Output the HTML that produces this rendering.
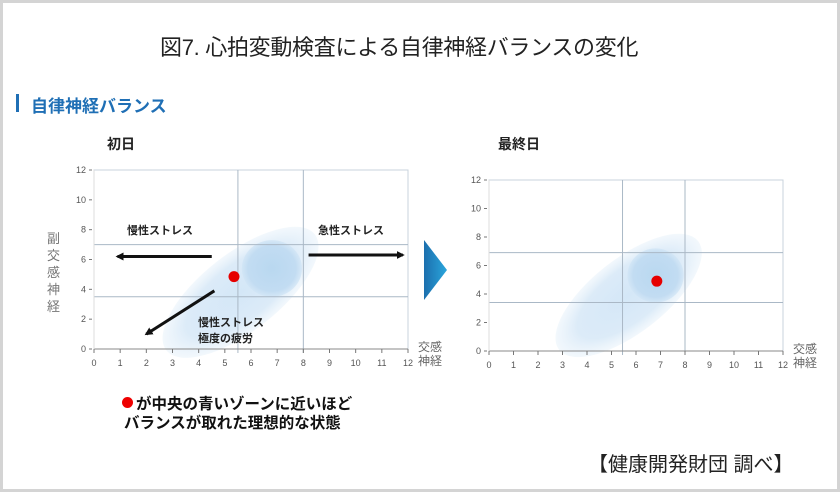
<!DOCTYPE html>
<html><head><meta charset="utf-8"><style>
body{margin:0;width:840px;height:492px;overflow:hidden;background:#fff;font-family:"Liberation Sans","Noto Sans CJK JP",sans-serif;}
#frame{position:absolute;left:0;top:0;width:834px;height:486px;border:3px solid #d4d4d4;background:#fff;}
.t{position:absolute;white-space:nowrap;}
</style></head><body>
<div id="frame"></div>
<div class="t" style="left:160px;top:30px;font-size:22px;color:#222;letter-spacing:-0.3px;">図7. 心拍変動検査による自律神経バランスの変化</div>
<div style="position:absolute;left:16px;top:94px;width:3px;height:18px;background:#1f6fb5;"></div>
<div class="t" style="left:31px;top:92px;font-size:17px;font-weight:bold;color:#1f6fb5;">自律神経バランス</div>
<svg id="svg" width="840" height="492" style="position:absolute;left:0;top:0">
<defs>
<radialGradient id="g1"><stop offset="0" stop-color="#d4e7f7"/><stop offset="0.7" stop-color="#dcebf8"/><stop offset="1" stop-color="#e6f1fa" stop-opacity="0.5"/></radialGradient>
<radialGradient id="g2"><stop offset="0" stop-color="#b9d8f0"/><stop offset="0.8" stop-color="#c2dcf2"/><stop offset="1" stop-color="#cfe4f5" stop-opacity="0.7"/></radialGradient>
<linearGradient id="tri" x1="0" x2="1"><stop offset="0" stop-color="#1c6fae"/><stop offset="1" stop-color="#2aa6dc"/></linearGradient>
<marker id="ah" markerWidth="8" markerHeight="8" refX="6" refY="4" orient="auto" markerUnits="userSpaceOnUse"><path d="M0,0 L8,4 L0,8 z" fill="#111"/></marker>
</defs>
</svg>
<div class="t" style="left:122px;top:397px;width:11px;height:11px;border-radius:50%;background:#e00;"></div>
<div class="t" style="left:136px;top:392px;font-size:15.5px;font-weight:bold;color:#111;">が中央の青いゾーンに近いほど</div>
<div class="t" style="left:124px;top:411px;font-size:15.5px;font-weight:bold;color:#111;">バランスが取れた理想的な状態</div>
<div class="t" style="left:588px;top:448px;font-size:20px;color:#222;">【健康開発財団 調べ】</div>
<script>
const xTicks=[0,1,2,3,4,5,6,7,8,9,10,11,12];
const yTicks=[0,2,4,6,8,10,12];
const leftDot=[5.35,4.85];
const rightDot=[6.85,4.9];
const leftGridX=[5.5,8];
const leftGridY=[7,3.5];
const rightGridX=[5.45,8];
const rightGridY=[6.9,3.4];
const svg=document.getElementById('svg');
const NS='http://www.w3.org/2000/svg';
function mk(tag,attrs,parent){const e=document.createElementNS(NS,tag);for(const k in attrs)e.setAttribute(k,attrs[k]);(parent||svg).appendChild(e);return e;}
function chart(cfg){
  const sx=v=>cfg.x0+(cfg.x1-cfg.x0)*v/12;
  const sy=v=>cfg.y0-(cfg.y0-cfg.y1)*v/12;
  const g=mk('g',{});
  
  
  const ex=sx(cfg.ell[0]),ey=sy(cfg.ell[1]);
  const e1=mk('ellipse',{cx:ex,cy:ey,rx:(sx(3.6)-sx(0)),ry:(sy(0)-sy(2.6)),fill:'url(#g1)',transform:`rotate(-38 ${ex} ${ey})`},g);
  
  
  const cx=sx(cfg.circ[0]),cy=sy(cfg.circ[1]);
  const e2=mk('ellipse',{cx:cx,cy:cy,rx:sx(1.15)-sx(0),ry:sy(0)-sy(1.9),fill:'url(#g2)'},g);
  
  
  mk('rect',{x:cfg.x0,y:cfg.y1,width:cfg.x1-cfg.x0,height:cfg.y0-cfg.y1,fill:'none',stroke:'#c9d3dc','stroke-width':1},g);
  cfg.gx.forEach(v=>{const l=mk('line',{x1:sx(v),x2:sx(v),y1:cfg.y1,y2:cfg.y0+4,stroke:'#aab8c6','stroke-width':1},g);});
  cfg.gy.forEach(v=>{const l=mk('line',{x1:cfg.x0,x2:cfg.x1,y1:sy(v),y2:sy(v),stroke:'#aab8c6','stroke-width':1},g);});
  mk('line',{x1:cfg.x0,x2:cfg.x1,y1:cfg.y0,y2:cfg.y0,stroke:'#888','stroke-width':1},g);
  mk('line',{x1:cfg.x0,x2:cfg.x0,y1:cfg.y1,y2:cfg.y0,stroke:'#ddd','stroke-width':1},g);
  xTicks.forEach(v=>{
    mk('line',{x1:sx(v),x2:sx(v),y1:cfg.y0,y2:cfg.y0+4,stroke:'#777'},g);
    const t=mk('text',{x:sx(v),y:cfg.y0+17,'text-anchor':'middle','font-size':9,fill:'#555'},g);t.textContent=v;
    
  });
  yTicks.forEach(v=>{
    mk('line',{x1:cfg.x0-5,x2:cfg.x0-2,y1:sy(v),y2:sy(v),stroke:'#777'},g);
    const t=mk('text',{x:cfg.x0-8,y:sy(v)+3,'text-anchor':'end','font-size':9,fill:'#555'},g);t.textContent=v;
    
  });
  const d=mk('circle',{cx:sx(cfg.dot[0]),cy:sy(cfg.dot[1]),r:5.5,fill:'#e60000'},g);
  
  
  const xt=mk('text',{x:cfg.x1+10,y:cfg.y0+2,'font-size':12,fill:'#666'},g);xt.textContent='交感';
  
  const xt2=mk('text',{x:cfg.x1+10,y:cfg.y0+16,'font-size':12,fill:'#666'},g);xt2.textContent='神経';
  const tt=mk('text',{x:cfg.tx,y:cfg.ty,'font-size':14,'font-weight':'bold',fill:'#222'},g);tt.textContent=cfg.title;
  
  return {sx,sy,g};
}
const L=chart({name:'first-day-chart',x0:94,x1:408,y0:349,y1:170,gx:leftGridX,gy:leftGridY,ell:[5.6,3.8],circ:[6.8,5.4],dot:leftDot,title:'初日',tx:107,ty:149});
const R=chart({name:'last-day-chart',x0:489,x1:783,y0:351,y1:180,gx:rightGridX,gy:rightGridY,ell:[5.7,3.9],circ:[6.8,5.3],dot:rightDot,title:'最終日',tx:498,ty:149});
['副','交','感','神','経'].forEach((c,i)=>{const t=mk('text',{x:47,y:243+i*17,'font-size':13,fill:'#777'});t.textContent=c;});
function arrow(a,b,name){const l=mk('line',{x1:L.sx(a[0]),y1:L.sy(a[1]),x2:L.sx(b[0]),y2:L.sy(b[1]),stroke:'#111','stroke-width':3,'marker-end':'url(#ah)'});}
arrow([4.5,6.2],[0.9,6.2],'chronic-stress-arrow');
arrow([8.2,6.3],[11.8,6.3],'acute-stress-arrow');
arrow([4.6,3.9],[2.0,1.0],'fatigue-arrow');
function lab(x,y,s,name){const t=mk('text',{x:x,y:y,'font-size':11,'font-weight':'bold',fill:'#222'});t.textContent=s;}
lab(127,234,'慢性ストレス','chronic-stress-label');
lab(318,234,'急性ストレス','acute-stress-label');
lab(198,326,'慢性ストレス','fatigue-label-1');
lab(198,342,'極度の疲労','fatigue-label-2');
const tr=mk('path',{d:'M424,240 L447,270 L424,300 Z',fill:'url(#tri)'});


</script>
</body></html>
